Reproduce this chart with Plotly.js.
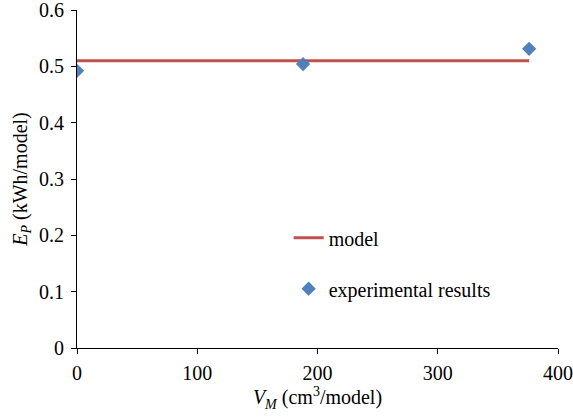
<!DOCTYPE html>
<html><head><meta charset="utf-8">
<script src="https://cdn.plot.ly/plotly-3.0.1.min.js"></script>
<style>html,body{margin:0;padding:0;background:#fff}</style>
</head><body>
<div id="chart" style="width:573px;height:419px"></div>
<script>
const modelX = [0, 376];
const modelY = [0.51, 0.51];
const expX = [0, 188, 376];
const expY = [0.492, 0.504, 0.531];
const xTicks = [0, 100, 200, 300, 400];
const yTicks = [0, 0.1, 0.2, 0.3, 0.4, 0.5, 0.6];

const font = {family: 'Liberation Serif, Times New Roman, serif', size: 20, color: '#000'};
const traces = [
  {x: modelX, y: modelY, mode: 'lines', name: 'model', legendgroup: 'a',
   line: {color: '#C0504D', width: 3}},
  {x: expX, y: expY, mode: 'markers', name: 'experimental results', legendgroup: 'b',
   marker: {symbol: 'diamond', size: 11, color: '#4F81BD'}}
];
const layout = {
  width: 573, height: 419,
  margin: {l: 77, r: 15, t: 10, b: 71},
  paper_bgcolor: '#fff', plot_bgcolor: '#fff',
  font: font,
  showlegend: true,
  legend: {x: 0.44, y: 0.384, xanchor: 'left', yanchor: 'top', bgcolor: 'rgba(0,0,0,0)',
           font: font, tracegroupgap: 22, traceorder: 'grouped'},
  xaxis: {range: [0, 400], tickvals: xTicks, ticks: 'outside', ticklen: 5, tickcolor: '#000',
          tickfont: font, ticklabelstandoff: 2, ticklabeloverflow: 'allow',
          showline: true, linecolor: '#000', linewidth: 1, showgrid: false, zeroline: false,
          title: {text: '<i>V<sub>M</sub></i> (cm<sup>3</sup>/model)', font: font, standoff: 4}},
  yaxis: {range: [0, 0.6], tickvals: yTicks, ticktext: yTicks.map(String), ticks: 'outside', ticklen: 5, tickcolor: '#000',
          tickfont: font, ticklabelstandoff: 3, ticklabeloverflow: 'allow',
          showline: true, linecolor: '#000', linewidth: 1, showgrid: false, zeroline: false,
          title: {text: '<i>E<sub>P</sub></i> (kWh/model)', font: font, standoff: 6}}
};
Plotly.newPlot('chart', traces, layout, {displayModeBar: false, staticPlot: true});
</script>
</body></html>
